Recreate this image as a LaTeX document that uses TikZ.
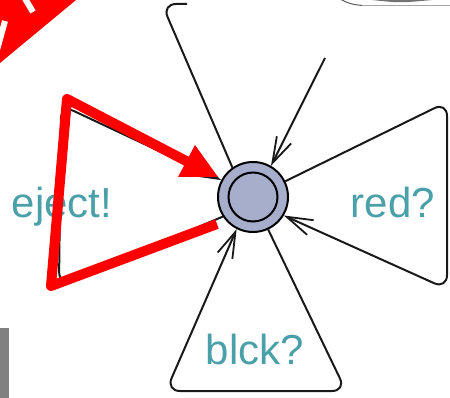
\documentclass[tikz,border=0pt]{standalone}
\usepackage{fontspec}
\setmainfont{Liberation Sans}
\usetikzlibrary{arrows.meta}
\definecolor{statefill}{RGB}{166,174,203}
\definecolor{lbltext}{RGB}{74,160,168}
\definecolor{markred}{RGB}{255,0,0}
\tikzset{
  loopline/.style={draw=black!90, line width=2pt, rounded corners=14pt},
  barb/.style={-{Straight Barb[length=26pt,width=16pt,line width=1.8pt]}},
  lbl/.style={text=lbltext, font=\fontsize{42}{50}\selectfont, inner sep=0pt, anchor=base},
  markline/.style={draw=markred, line width=10pt, line join=round},
}
\begin{document}
\begin{tikzpicture}[x=1pt,y=-1pt]
\useasboundingbox (0,0) rectangle (450,398);
\clip (0,0) rectangle (450,398);
\fill[white] (0,0) rectangle (450,398);

% state node (drawn first to get anchors, redrawn on top at the end)
\node[circle, minimum size=70pt, inner sep=0pt, line width=2pt, draw=none] (s) at (253,197) {};

% corner coordinates
\coordinate (tl1) at (187,4);
\coordinate (tl2) at (162,4);
\coordinate (tr) at (325,58);
\coordinate (r1) at (447,102);
\coordinate (r2) at (447,289);
\coordinate (b1) at (346,391);
\coordinate (b2) at (166,391);
\coordinate (l1) at (59,286);
\coordinate (l2) at (61,105);

% top loop (partly hidden)
\draw[loopline] (tl1) -- (tl2) -- (s.125);
\draw[loopline, barb] (tr) -- (s.60);
% right loop
\draw[loopline, barb] (s.26) -- (r1) -- (r2) -- (s.-31);
% bottom loop
\draw[loopline, barb] (s.-65) -- (b1) -- (b2) -- (s.243);
% left loop
\draw[loopline, barb] (s.213) -- (l1) -- (l2) -- (s.152);

% labels
\node[lbl] (ej) at (62,218) {eject!};
\node[lbl] (rd) at (393,218) {red?};
\node[lbl] (bk) at (255,364) {blck?};

% red markup
\coordinate (m0) at (217,224);
\coordinate (m1) at (51,286);
\coordinate (m2) at (67,99);
\coordinate (m3) at (190,163);
\draw[markline] (m0) -- (m1) -- (m2) -- (m3);
\fill[markred] (218,177) -- (178,177) -- (195,145) -- cycle;

% state circles on top
\node[circle, minimum size=70pt, inner sep=0pt, line width=2pt, draw=black, fill=statefill] (s2) at (s.center) {};
\node[circle, minimum size=49pt, inner sep=0pt, line width=2pt, draw=black] (s3) at (s.center) {};

% top-left red banner
\fill[markred] (0,0) -- (76,0) -- (0,63) -- cycle;
\draw[white, line width=6pt] (24,-3) -- (33,12);
\draw[white, line width=6pt] (5,21) -- (-3,50);

% top-right grey fragment
\draw[black!65, line width=1pt] (340,-1) .. controls (350,4) .. (362,5.5);
\draw[black!35, line width=1.8pt] (362,5.5) -- (452,5.5);
\fill[black!55] (372,0) .. controls (400,3) .. (432,0) -- cycle;

% bottom-left grey bar
\fill[black!50] (0,328) rectangle (9,398);
\end{tikzpicture}
\end{document}
